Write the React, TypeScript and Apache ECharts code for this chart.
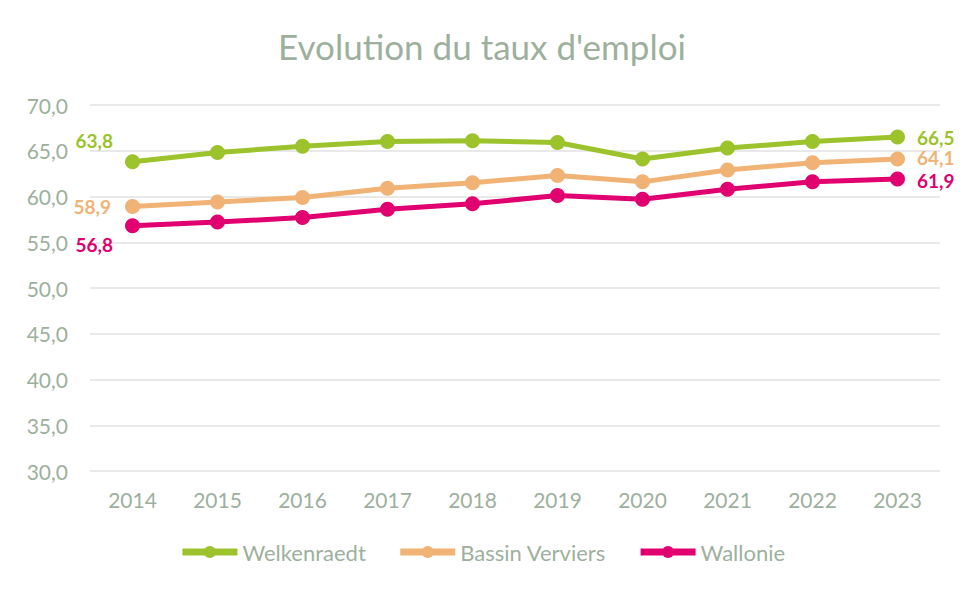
import React, { useEffect, useRef } from "react";
import * as echarts from "echarts";

const years = ["2014", "2015", "2016", "2017", "2018", "2019", "2020", "2021", "2022", "2023"];
const welkenraedt = [63.8, 64.8, 65.5, 66.0, 66.1, 65.9, 64.1, 65.3, 66.0, 66.5];
const bassinVerviers = [58.9, 59.4, 59.9, 60.9, 61.5, 62.3, 61.6, 62.9, 63.7, 64.1];
const wallonie = [56.8, 57.2, 57.7, 58.6, 59.2, 60.1, 59.7, 60.8, 61.6, 61.9];
const seriesNames = ["Welkenraedt", "Bassin Verviers", "Wallonie"];
const colors = ["#9cc22c", "#f0b375", "#e0006f"];

const FONT = "Lato, 'Open Sans', sans-serif";
const GREY = "#9db09d";

export default function App() {
  const ref = useRef<HTMLDivElement>(null);
  useEffect(() => {
    if (!ref.current) return;
    const chart = echarts.init(ref.current, undefined, { renderer: "svg" });
    const fmt = (v: number) => v.toFixed(1).replace(".", ",");
    const firstOffsets: [number, number][] = [[0, -21], [-2, 0], [0, 19]];
    const lastOffsets: [number, number][] = [[0, 0], [0, -1], [0, 1]];
    const makeSeries = (idx: number, data: number[]) => ({
      name: seriesNames[idx],
      type: "line",
      data: data.map((v, i) => ({
        value: v,
        label: {
          show: i === 0 || i === data.length - 1,
          position: i === 0 ? "left" : "right",
          distance: 12,
          offset: i === 0 ? firstOffsets[idx] : lastOffsets[idx],
        },
      })),
      symbol: "circle",
      symbolSize: 15,
      itemStyle: { color: colors[idx] },
      lineStyle: { color: colors[idx], width: 5 },
      label: {
        color: colors[idx],
        fontFamily: FONT,
        fontWeight: "bold",
        fontSize: 19,
        lineHeight: 17,
        formatter: (p: any) => fmt(p.value),
      },
    });
    chart.setOption({
      animation: false,
      title: {
        text: "Evolution du taux d'emploi",
        left: "center",
        top: 23,
        textStyle: { color: GREY, fontFamily: FONT, fontWeight: "normal", fontSize: 35 },
      },
      legend: {
        bottom: 22,
        left: "center",
        itemWidth: 55,
        itemHeight: 15,
        itemGap: 31,
        lineStyle: { width: 7 },
        textStyle: { color: GREY, fontFamily: FONT, fontSize: 22 },
        data: seriesNames,
      },
      grid: { left: 90, right: 24, top: 105, bottom: 119, containLabel: false },
      xAxis: {
        type: "category",
        data: years,
        boundaryGap: true,
        axisLine: { show: false },
        axisTick: { show: false },
        axisLabel: { color: GREY, fontFamily: FONT, fontSize: 21, margin: 18 },
      },
      yAxis: {
        type: "value",
        min: 30,
        max: 70,
        interval: 5,
        axisLine: { show: false },
        axisTick: { show: false },
        splitLine: { lineStyle: { color: "#e2e2e2", width: 1.5 } },
        axisLabel: { color: GREY, fontFamily: FONT, fontSize: 21, margin: 22, formatter: fmt },
      },
      series: [
        makeSeries(0, welkenraedt),
        makeSeries(1, bassinVerviers),
        makeSeries(2, wallonie),
      ],
    });
    return () => chart.dispose();
  }, []);
  return (
    <div style={{ position: "relative", width: 964, height: 590, margin: -8, background: "#fff", overflow: "hidden" }}>
      <div style={{ position: "absolute", left: 5, top: 6, width: 970, height: 600, border: "1px solid #dcdcdc" }} />
      <div ref={ref} style={{ position: "absolute", left: 0, top: 0, width: 964, height: 590 }} />
    </div>
  );
}
